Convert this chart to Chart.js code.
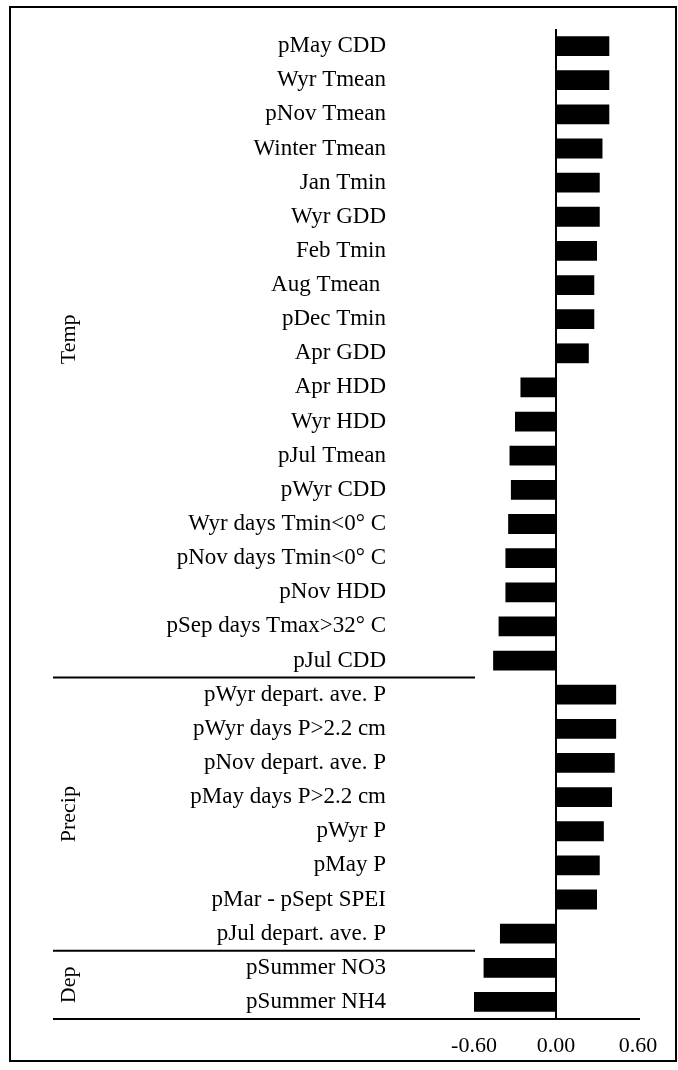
<!DOCTYPE html>
<html>
<head>
<meta charset="utf-8">
<script src="https://cdn.jsdelivr.net/npm/chart.js@4"></script>
<style>
  body { margin: 0; background: #fff; }
  canvas { display: block; }
</style>
</head>
<body>
<canvas id="chart" width="678" height="1070"></canvas>
<script>
const categories = [
  'pMay CDD', 'Wyr Tmean', 'pNov Tmean', 'Winter Tmean', 'Jan Tmin', 'Wyr GDD',
  'Feb Tmin', 'Aug Tmean ', 'pDec Tmin', 'Apr GDD', 'Apr HDD', 'Wyr HDD',
  'pJul Tmean', 'pWyr CDD', 'Wyr days Tmin<0° C', 'pNov days Tmin<0° C', 'pNov HDD',
  'pSep days Tmax>32° C', 'pJul CDD',
  'pWyr depart. ave. P', 'pWyr days P>2.2 cm', 'pNov depart. ave. P', 'pMay days P>2.2 cm',
  'pWyr P', 'pMay P', 'pMar - pSept SPEI', 'pJul depart. ave. P',
  'pSummer NO3', 'pSummer NH4'
];
const values = [
  0.39, 0.39, 0.39, 0.34, 0.32, 0.32,
  0.30, 0.28, 0.28, 0.24, -0.26, -0.30,
  -0.34, -0.33, -0.35, -0.37, -0.37,
  -0.42, -0.46,
  0.44, 0.44, 0.43, 0.41,
  0.35, 0.32, 0.30, -0.41,
  -0.53, -0.60
];
const groupNames = ['Temp', 'Precip', 'Dep'];
const groupFirst = [0, 19, 27];
const groupLast = [18, 26, 28];
const xTicks = [-0.6, 0, 0.6];

const FONT = '"Liberation Serif", "Times New Roman", serif';

// frame, long category axis line, group separators and group names
const decorations = {
  id: 'decorations',
  afterDraw(chart) {
    const ctx = chart.ctx;
    const y = chart.scales.y;
    const area = chart.chartArea;
    ctx.save();
    ctx.strokeStyle = '#000';
    ctx.lineWidth = 2;
    ctx.strokeRect(10, 7, 666, 1054);

    ctx.beginPath();
    ctx.moveTo(53, area.bottom);
    ctx.lineTo(640, area.bottom);
    ctx.stroke();

    for (let g = 0; g < groupNames.length - 1; g++) {
      const sep = (y.getPixelForValue(groupLast[g]) + y.getPixelForValue(groupFirst[g + 1])) / 2;
      ctx.beginPath();
      ctx.moveTo(53, sep);
      ctx.lineTo(475, sep);
      ctx.stroke();
    }

    ctx.fillStyle = '#000';
    ctx.font = '22px ' + FONT;
    ctx.textAlign = 'center';
    ctx.textBaseline = 'middle';
    const shift = [-14, 0, 0];
    groupNames.forEach((name, g) => {
      const cy = (y.getPixelForValue(groupFirst[g]) + y.getPixelForValue(groupLast[g])) / 2 + shift[g];
      ctx.save();
      ctx.translate(69, cy);
      ctx.rotate(-Math.PI / 2);
      ctx.fillText(name, 0, 0);
      ctx.restore();
    });
    ctx.restore();
  }
};

new Chart(document.getElementById('chart'), {
  type: 'bar',
  data: {
    labels: categories,
    datasets: [{
      data: values,
      backgroundColor: '#000',
      borderWidth: 0,
      barPercentage: 0.58,
      categoryPercentage: 1
    }]
  },
  options: {
    indexAxis: 'y',
    responsive: false,
    animation: false,
    devicePixelRatio: 1,
    layout: { padding: { top: 29, right: 40, bottom: 0, left: 0 } },
    plugins: { legend: { display: false }, tooltip: { enabled: false } },
    scales: {
      x: {
        min: xTicks[0],
        max: xTicks[xTicks.length - 1],
        afterBuildTicks: (scale) => { scale.ticks = xTicks.map(v => ({ value: v })); },
        afterFit: (scale) => { scale.height = 51; },
        border: { display: false },
        grid: {
          drawTicks: false,
          lineWidth: 2,
          color: (c) => (c.tick && Math.abs(c.tick.value) < 1e-9 ? '#000' : 'rgba(0,0,0,0)')
        },
        ticks: {
          padding: 14,
          color: '#000',
          font: { family: FONT, size: 22 },
          callback: (v) => (Math.abs(v) < 1e-9 ? '0.00' : Number(v).toFixed(2))
        }
      },
      y: {
        afterFit: (scale) => {
          scale.width = 474;
          scale.paddingTop = 0;
          scale.paddingBottom = 0;
        },
        border: { display: false },
        grid: { display: false },
        ticks: {
          autoSkip: false,
          padding: 80,
          color: '#000',
          font: { family: FONT, size: 23 }
        }
      }
    }
  },
  plugins: [decorations]
});
</script>
</body>
</html>
